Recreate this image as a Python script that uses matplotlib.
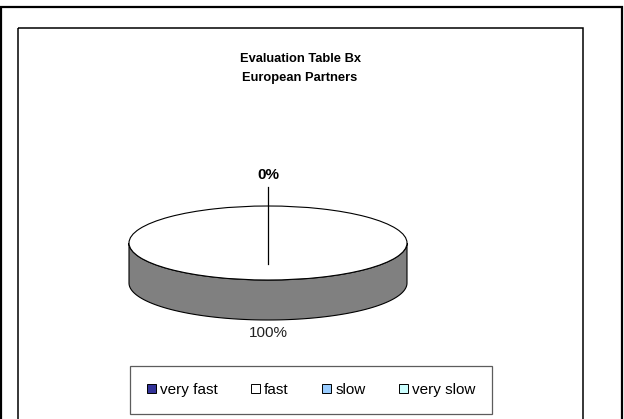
import numpy as np
import matplotlib.pyplot as plt
from matplotlib.patches import Rectangle, Patch, Polygon

plt.rcParams['font.family'] = ['Liberation Sans', 'DejaVu Sans']

# evaluation answers (blank cells for slow / very slow)
categories = ['very fast', 'fast', 'slow', 'very slow']
shares = [0, 100, np.nan, np.nan]
colors = ['#333399', '#FFFFFF', '#99CCFF', '#CCFFFF']
title_lines = ['Evaluation Table Bx', 'European Partners']

W, H = 624, 419
fig = plt.figure(figsize=(W / 100, H / 100), dpi=100)

# background axes in pixel units: frames, title, legend
bg = fig.add_axes([0, 0, 1, 1])
bg.set_xlim(0, W)
bg.set_ylim(H, 0)
bg.axis('off')

# outer chart border
bg.plot([1, 1, 622, 622], [H + 5, 7, 7, H + 5], color='black', lw=1.6,
        solid_joinstyle='miter')
# plot area frame
bg.add_patch(Rectangle((18, 28), 565, 420, fill=False, ec='black', lw=1.1))

bg.text(300, 59, title_lines[0], ha='center', va='center',
        fontsize=9.3, fontweight='bold')
bg.text(300, 78, title_lines[1], ha='center', va='center',
        fontsize=9.3, fontweight='bold')

handles = [Patch(facecolor=c, edgecolor='black', lw=0.7) for c in colors]
leg = bg.legend(handles, categories, loc='center', bbox_to_anchor=(311, 390),
                bbox_transform=bg.transData, ncol=4, fontsize=11,
                frameon=True, fancybox=False, edgecolor='#333333',
                handlelength=0.6, handleheight=0.6, handletextpad=0.25,
                columnspacing=2.2, borderpad=1.1)
leg.get_frame().set_linewidth(0.9)

# pie axes: top ellipse centred at (268, 243) px, rx 139 px, ry 37 px
cx, cy, rx, ry = 268, 243, 139, 37
depth = 40 / ry
ax = fig.add_axes([0, 0, 1, 1])
ax.patch.set_alpha(0)

present = [i for i, v in enumerate(shares) if not np.isnan(v)]
pvals = [shares[i] for i in present]
pcols = [colors[i] for i in present]
total = sum(pvals)


def shade(c, f=0.5):
    r, g, b = plt.matplotlib.colors.to_rgb(c)
    return (r * f, g * f, b * f)


# side walls of the front half
start = 90.0
for v, c in zip(pvals, pcols):
    t1 = start - 360 * v / total
    t0 = start
    start = t1
    lo, hi = min(t0, t1), max(t0, t1)
    # visible front range is 180..360 (mod 360)
    for shift in (-360, 0, 360):
        a = max(lo, 180 + shift)
        b = min(hi, 360 + shift)
        if b > a:
            t = np.radians(np.linspace(a, b, 120))
            top = np.column_stack([np.cos(t), np.sin(t)])
            bot = np.column_stack([np.cos(t[::-1]), np.sin(t[::-1]) - depth])
            ax.add_patch(Polygon(np.vstack([top, bot]), closed=True,
                                 fc=shade(c), ec='black', lw=0.8, zorder=1))

wedges, _ = ax.pie(pvals, colors=pcols, startangle=90, counterclock=False,
                   radius=1, center=(0, 0), frame=True,
                   wedgeprops=dict(edgecolor='black', linewidth=0.8))
for w in wedges:
    w.set_zorder(2)

ax.set_aspect('auto')
ax.set_xlim((0 - cx) / rx, (W - cx) / rx)
ax.set_ylim((cy - H) / ry, cy / ry)
ax.axis('off')

# data labels
start = 90.0
for v in pvals:
    mid = np.radians(start - 180 * v / total)
    start -= 360 * v / total
    pct = f'{v / total * 100:.0f}%'
    if np.sin(mid) > 0:
        ax.plot([0, 0], [-0.57, 1.51], color='black', lw=0.9, zorder=3)
        ax.text(0, 1.84, pct, ha='center', va='center', fontsize=11,
                fontweight='bold', zorder=4)
    else:
        ax.text(0, -2.43, pct, ha='center', va='center', fontsize=11,
                color='#222222', zorder=4)

fig.savefig('out.png', dpi=100)
